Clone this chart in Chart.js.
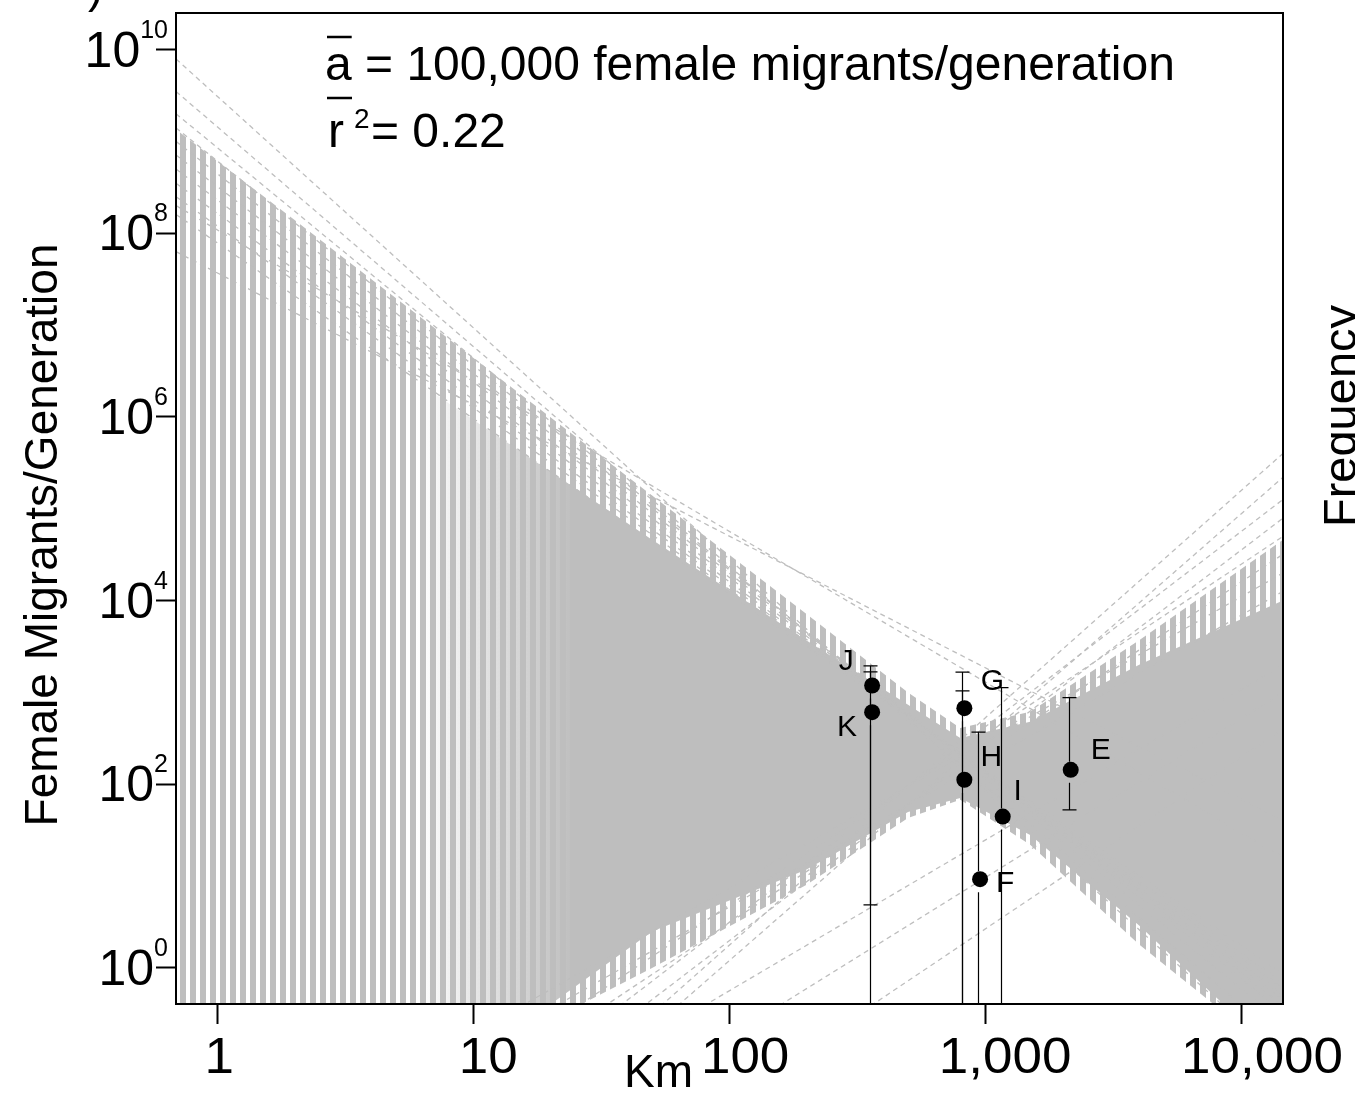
<!DOCTYPE html>
<html>
<head>
<meta charset="utf-8">
<script src="https://cdn.jsdelivr.net/npm/chart.js@4.4.1/dist/chart.umd.min.js"></script>
<style>
  html, body { margin: 0; padding: 0; background: #fff; }
</style>
</head>
<body>
<canvas id="migrantsChart" width="1355" height="1093"></canvas>
<script>
// axis ranges (km, female migrants per generation)
var kmRange = [0.69, 14590];
var migrantRange = [0.405, 2.5e10];

var xTickValues = [1, 10, 100, 1000, 10000];
var xTickLabels = ["1", "10", "100", "1,000", "10,000"];
var yTickPowers = [0, 2, 4, 6, 8, 10];

// sampled populations
var siteNames = ["J", "K", "G", "H", "I", "F", "E"];
var siteKm = [362, 362, 830, 830, 1172, 956, 2161];
var siteMigrants = [1189, 610, 674, 112, 44.5, 9.25, 143.6];
var siteUpper = [1950, 1676, 1664, 1041, 1130, 369, 880];
var siteLower = [4.86, 0.01, 0.01, 0.01, 0.01, 0.01, 52.6];

// envelope of the bootstrap regression lines
var bandKm = [0.69, 2, 10, 50, 200, 500, 800, 1500, 4000, 14590];
var bandTop = [1.35e9, 1.4e8, 4.4e6, 1.39e5, 7.2e3, 1.0e3, 411, 615, 3.7e3, 4.6e4];
var bandBottom = [0.1, 0.1, 0.1, 1.0, 8, 43, 68, 22, 1.8, 0.1];
var coreTop = [2.3e8, 1.9e7, 9.3e5, 4.6e4, 3.7e3, 733, 320, 478, 2.0e3, 1.0e4];
var coreBottom = [0.1, 0.1, 0.1, 2.5, 11.7, 50, 71, 28, 2.9, 0.1];

// single fits on the fringe: value at left edge / value at right edge
var fitLeft = [7.9e9, 3.5e9, 2.0e9, 1.4e9, 1.0e9, 7.1e8, 5.0e8, 3.5e8, 2.5e8, 1.6e8, 2.0e8, 6.3e7,
               7.9e-6, 6.6e-6, 7.9e-5, 5.0e-5, 4.7e-4, 3.0e-4, 2.8e-3, 1.7e-3, 3.2e-5, 3.2e-6, 1.6e-4];
var fitRight = [0.1, 0.16, 0.25, 0.33, 0.39, 0.45, 0.51, 0.6, 0.69, 0.85, 16, 40,
                4.0e5, 2.2e5, 1.26e5, 7.9e4, 5.0e4, 3.2e4, 2.0e4, 1.26e4, 1000, 400, 2000];

var FONT = "'Liberation Sans', Arial, sans-serif";
var GREY = "#bebebe";

var canvas = document.getElementById("migrantsChart");
var mainCtx = canvas.getContext("2d");

// vertical stripes like the dashed lines piling up at the left
var stripeTile = document.createElement("canvas");
stripeTile.width = 10;
stripeTile.height = 4;
var tctx = stripeTile.getContext("2d");
tctx.fillStyle = GREY;
tctx.fillRect(0, 0, 6, 4);
var stripePattern = mainCtx.createPattern(stripeTile, "repeat");

function xy(xs, ys) {
  return xs.map(function (x, i) { return { x: x, y: ys[i] }; });
}

var datasets = [];
datasets.push({ label: "bandTop", data: xy(bandKm, bandTop), fill: "+1", backgroundColor: stripePattern,
  borderWidth: 0, pointRadius: 0, order: 4 });
datasets.push({ label: "bandBottom", data: xy(bandKm, bandBottom), fill: false,
  borderWidth: 0, pointRadius: 0, order: 4 });
datasets.push({
  label: "coreTop", data: xy(bandKm, coreTop), fill: "+1", borderWidth: 0, pointRadius: 0, order: 3,
  backgroundColor: function (context) {
    var chart = context.chart;
    var xs = chart.scales.x;
    if (!chart.chartArea || !xs) return "rgba(190,190,190,0)";
    var g = chart.ctx.createLinearGradient(xs.getPixelForValue(6), 0, xs.getPixelForValue(25), 0);
    g.addColorStop(0, "rgba(190,190,190,0)");
    g.addColorStop(1, "rgba(190,190,190,1)");
    return g;
  }
});
datasets.push({ label: "coreBottom", data: xy(bandKm, coreBottom), fill: false,
  borderWidth: 0, pointRadius: 0, order: 3 });

fitLeft.forEach(function (v, i) {
  datasets.push({
    label: "fit" + i,
    data: [{ x: kmRange[0], y: v }, { x: kmRange[1], y: fitRight[i] }],
    borderColor: GREY, borderWidth: 1.3, borderDash: [5, 4], pointRadius: 0, fill: false, order: 2
  });
});

datasets.push({
  label: "sites", data: xy(siteKm, siteMigrants), showLine: false, pointRadius: 8,
  pointBackgroundColor: "#000", pointBorderWidth: 0, order: 0
});

var labelOffset = [[-26, -24], [-25, 16], [28, -26], [27, -22], [15, -25], [25, 5], [30, -19]];
var xLabelNudge = [2, 15, 16, 20, 21];

var errorBarPlugin = {
  id: "errorBars",
  beforeDatasetDraw: function (chart, args) {
    if (args.meta.label !== "sites") return;
    var ctx = chart.ctx, area = chart.chartArea;
    var xs = chart.scales.x, ys = chart.scales.y;
    ctx.save();
    ctx.beginPath();
    ctx.rect(area.left, area.top, area.right - area.left, area.bottom - area.top);
    ctx.clip();
    ctx.strokeStyle = "#000";
    ctx.lineWidth = 1.2;
    siteKm.forEach(function (k, i) {
      var px = Math.round(xs.getPixelForValue(k)) - 1.5;
      var py = ys.getPixelForValue(siteMigrants[i]);
      var hi = ys.getPixelForValue(siteUpper[i]);
      var lo = ys.getPixelForValue(siteLower[i]);
      ctx.beginPath();
      ctx.moveTo(px, hi);
      ctx.lineTo(px, py - 8);
      ctx.moveTo(px, py + 13);
      ctx.lineTo(px, lo);
      ctx.moveTo(px - 7, hi);
      ctx.lineTo(px + 7, hi);
      ctx.moveTo(px - 7, lo);
      ctx.lineTo(px + 7, lo);
      ctx.stroke();
    });
    ctx.restore();
  }
};

var textPlugin = {
  id: "panelText",
  afterDraw: function (chart) {
    var ctx = chart.ctx, area = chart.chartArea;
    var xs = chart.scales.x, ys = chart.scales.y;
    ctx.save();
    ctx.strokeStyle = "#000";
    ctx.lineWidth = 2;
    ctx.strokeRect(area.left, area.top, area.right - area.left, area.bottom - area.top);

    ctx.fillStyle = "#000";
    ctx.textBaseline = "alphabetic";

    // y tick labels 10^n
    yTickPowers.forEach(function (p) {
      var py = ys.getPixelForValue(Math.pow(10, p));
      ctx.font = "25px " + FONT;
      var ew = ctx.measureText(String(p)).width;
      ctx.font = "50px " + FONT;
      var bw = ctx.measureText("10").width;
      var right = 168;
      ctx.textAlign = "left";
      ctx.fillText("10", right - ew - bw, py + 17);
      ctx.font = "25px " + FONT;
      ctx.fillText(String(p), right - ew, py - 12);
    });

    // x tick labels
    ctx.font = "50px " + FONT;
    ctx.textAlign = "center";
    xTickValues.forEach(function (v, i) {
      ctx.save();
      ctx.translate(xs.getPixelForValue(v) + xLabelNudge[i], 1073);
      ctx.scale(1.06, 1);
      ctx.fillText(xTickLabels[i], 0, 0);
      ctx.restore();
    });

    ctx.font = "46px " + FONT;
    ctx.textAlign = "left";
    ctx.fillText("Km", 624, 1087);

    ctx.save();
    ctx.translate(57, 535);
    ctx.rotate(-Math.PI / 2);
    ctx.textAlign = "center";
    ctx.fillText("Female Migrants/Generation", 0, 0);
    ctx.restore();

    ctx.save();
    ctx.font = "47px " + FONT;
    ctx.translate(1356, 416);
    ctx.rotate(-Math.PI / 2);
    ctx.textAlign = "center";
    ctx.fillText("Frequency", 0, 0);
    ctx.restore();

    ctx.textAlign = "left";
    ctx.fillText(")", 88, 2);

    // summary statistics
    ctx.font = "48px " + FONT;
    ctx.fillText("a = 100,000 female migrants/generation", 325, 80);
    var aw = ctx.measureText("a").width;
    ctx.fillText("r", 328, 147);
    ctx.fillText("= 0.22", 371, 147);
    ctx.font = "28px " + FONT;
    ctx.fillText("2", 354, 128);
    ctx.lineWidth = 2.5;
    ctx.beginPath();
    ctx.moveTo(327, 37);
    ctx.lineTo(325 + aw, 37);
    ctx.moveTo(327, 98);
    ctx.lineTo(352, 98);
    ctx.stroke();

    // site letters
    ctx.font = "30px " + FONT;
    ctx.textAlign = "center";
    ctx.textBaseline = "middle";
    siteNames.forEach(function (n, i) {
      var px = xs.getPixelForValue(siteKm[i]);
      var py = ys.getPixelForValue(siteMigrants[i]);
      ctx.fillText(n, px + labelOffset[i][0], py + labelOffset[i][1]);
    });
    ctx.restore();
  }
};

var tickGrid = { display: true, drawOnChartArea: false, drawTicks: true, tickLength: 20,
  tickColor: "#000", tickWidth: 2 };

new Chart(canvas, {
  type: "line",
  data: { datasets: datasets },
  options: {
    responsive: false,
    animation: false,
    devicePixelRatio: 1,
    events: [],
    layout: { padding: { left: 0, top: 13, right: 72, bottom: 0 } },
    plugins: { legend: { display: false }, tooltip: { enabled: false } },
    scales: {
      x: {
        type: "logarithmic", position: "bottom", min: kmRange[0], max: kmRange[1],
        afterBuildTicks: function (scale) {
          scale.ticks = xTickValues.map(function (v) { return { value: v }; });
        },
        afterFit: function (scale) { scale.height = 89; },
        ticks: { display: false, autoSkip: false },
        grid: tickGrid,
        border: { display: false }
      },
      y: {
        type: "logarithmic", position: "left", min: migrantRange[0], max: migrantRange[1],
        afterBuildTicks: function (scale) {
          scale.ticks = yTickPowers.map(function (p) { return { value: Math.pow(10, p) }; });
        },
        afterFit: function (scale) { scale.width = 176; },
        ticks: { display: false, autoSkip: false },
        grid: tickGrid,
        border: { display: false }
      }
    }
  },
  plugins: [errorBarPlugin, textPlugin]
});
</script>
</body>
</html>
